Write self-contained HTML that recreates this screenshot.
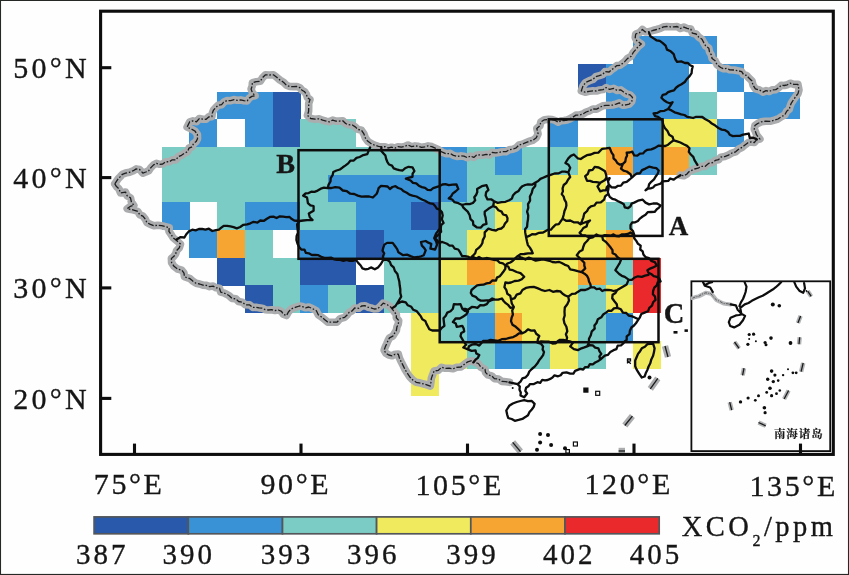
<!DOCTYPE html>
<html>
<head>
<meta charset="utf-8">
<title>XCO2 map</title>
<style>
html,body{margin:0;padding:0;background:#fefefe;}
body{width:849px;height:575px;overflow:hidden;}
svg{display:block;}
text{font-family:"Liberation Serif","Noto Serif CJK SC",serif;fill:#161616;stroke:#161616;stroke-width:0.35px;}
.ax{font-size:30px;letter-spacing:3.25px;}
.lab{font-size:26.5px;font-weight:bold;}
</style>
</head>
<body>
<svg width="849" height="575" viewBox="0 0 849 575">
<rect x="0" y="0" width="849" height="575" fill="#fefefe"/>
<!-- grid cells -->
<g shape-rendering="crispEdges">
<rect x="633.28" y="36.15" width="83.42" height="27.89" fill="#3a92d6"/>
<rect x="577.8" y="63.84" width="27.94" height="27.89" fill="#2859ab"/>
<rect x="605.54" y="63.84" width="83.42" height="27.89" fill="#3a92d6"/>
<rect x="716.5" y="63.84" width="27.94" height="27.89" fill="#3a92d6"/>
<rect x="217.18" y="91.53" width="55.68" height="27.89" fill="#3a92d6"/>
<rect x="272.66" y="91.53" width="27.94" height="27.89" fill="#2859ab"/>
<rect x="605.54" y="91.53" width="83.42" height="27.89" fill="#3a92d6"/>
<rect x="688.76" y="91.53" width="27.94" height="27.89" fill="#7bccc4"/>
<rect x="744.24" y="91.53" width="55.68" height="27.89" fill="#3a92d6"/>
<rect x="189.44" y="119.22" width="27.94" height="27.89" fill="#3a92d6"/>
<rect x="244.92" y="119.22" width="27.94" height="27.89" fill="#3a92d6"/>
<rect x="272.66" y="119.22" width="27.94" height="27.89" fill="#2859ab"/>
<rect x="300.4" y="119.22" width="55.68" height="27.89" fill="#7bccc4"/>
<rect x="550.06" y="119.22" width="27.94" height="27.89" fill="#3a92d6"/>
<rect x="605.54" y="119.22" width="27.94" height="27.89" fill="#7bccc4"/>
<rect x="633.28" y="119.22" width="27.94" height="27.89" fill="#3a92d6"/>
<rect x="661.02" y="119.22" width="55.68" height="27.89" fill="#f0ea5e"/>
<rect x="716.5" y="119.22" width="27.94" height="27.89" fill="#3a92d6"/>
<rect x="161.7" y="146.91" width="277.6" height="27.89" fill="#7bccc4"/>
<rect x="439.1" y="146.91" width="27.94" height="27.89" fill="#3a92d6"/>
<rect x="466.84" y="146.91" width="27.94" height="27.89" fill="#7bccc4"/>
<rect x="494.58" y="146.91" width="27.94" height="27.89" fill="#3a92d6"/>
<rect x="522.32" y="146.91" width="55.68" height="27.89" fill="#7bccc4"/>
<rect x="577.8" y="146.91" width="27.94" height="27.89" fill="#f0ea5e"/>
<rect x="605.54" y="146.91" width="27.94" height="27.89" fill="#f6a533"/>
<rect x="633.28" y="146.91" width="27.94" height="27.89" fill="#3a92d6"/>
<rect x="661.02" y="146.91" width="27.94" height="27.89" fill="#f6a533"/>
<rect x="688.76" y="146.91" width="27.94" height="27.89" fill="#7bccc4"/>
<rect x="161.7" y="174.6" width="166.64" height="27.89" fill="#7bccc4"/>
<rect x="328.14" y="174.6" width="138.9" height="27.89" fill="#3a92d6"/>
<rect x="466.84" y="174.6" width="83.42" height="27.89" fill="#7bccc4"/>
<rect x="550.06" y="174.6" width="55.68" height="27.89" fill="#f0ea5e"/>
<rect x="161.7" y="202.29" width="27.94" height="27.89" fill="#3a92d6"/>
<rect x="217.18" y="202.29" width="27.94" height="27.89" fill="#7bccc4"/>
<rect x="244.92" y="202.29" width="55.68" height="27.89" fill="#3a92d6"/>
<rect x="300.4" y="202.29" width="55.68" height="27.89" fill="#7bccc4"/>
<rect x="355.88" y="202.29" width="55.68" height="27.89" fill="#3a92d6"/>
<rect x="411.36" y="202.29" width="27.94" height="27.89" fill="#2859ab"/>
<rect x="439.1" y="202.29" width="55.68" height="27.89" fill="#7bccc4"/>
<rect x="494.58" y="202.29" width="27.94" height="27.89" fill="#f0ea5e"/>
<rect x="522.32" y="202.29" width="27.94" height="27.89" fill="#7bccc4"/>
<rect x="550.06" y="202.29" width="55.68" height="27.89" fill="#f0ea5e"/>
<rect x="605.54" y="202.29" width="27.94" height="27.89" fill="#7bccc4"/>
<rect x="189.44" y="229.98" width="27.94" height="27.89" fill="#3a92d6"/>
<rect x="217.18" y="229.98" width="27.94" height="27.89" fill="#f6a533"/>
<rect x="244.92" y="229.98" width="27.94" height="27.89" fill="#7bccc4"/>
<rect x="300.4" y="229.98" width="55.68" height="27.89" fill="#3a92d6"/>
<rect x="355.88" y="229.98" width="27.94" height="27.89" fill="#2859ab"/>
<rect x="383.62" y="229.98" width="55.68" height="27.89" fill="#3a92d6"/>
<rect x="439.1" y="229.98" width="27.94" height="27.89" fill="#7bccc4"/>
<rect x="466.84" y="229.98" width="138.9" height="27.89" fill="#f0ea5e"/>
<rect x="605.54" y="229.98" width="27.94" height="27.89" fill="#f6a533"/>
<rect x="217.18" y="257.67" width="27.94" height="27.89" fill="#2859ab"/>
<rect x="244.92" y="257.67" width="55.68" height="27.89" fill="#7bccc4"/>
<rect x="300.4" y="257.67" width="55.68" height="27.89" fill="#2859ab"/>
<rect x="383.62" y="257.67" width="55.68" height="27.89" fill="#7bccc4"/>
<rect x="439.1" y="257.67" width="27.94" height="27.89" fill="#f0ea5e"/>
<rect x="466.84" y="257.67" width="27.94" height="27.89" fill="#f6a533"/>
<rect x="494.58" y="257.67" width="83.42" height="27.89" fill="#f0ea5e"/>
<rect x="577.8" y="257.67" width="27.94" height="27.89" fill="#f6a533"/>
<rect x="605.54" y="257.67" width="27.94" height="27.89" fill="#7bccc4"/>
<rect x="633.28" y="257.67" width="27.94" height="27.89" fill="#e9292b"/>
<rect x="244.92" y="285.36" width="27.94" height="27.89" fill="#2859ab"/>
<rect x="272.66" y="285.36" width="27.94" height="27.89" fill="#7bccc4"/>
<rect x="300.4" y="285.36" width="27.94" height="27.89" fill="#3a92d6"/>
<rect x="328.14" y="285.36" width="27.94" height="27.89" fill="#7bccc4"/>
<rect x="355.88" y="285.36" width="27.94" height="27.89" fill="#2859ab"/>
<rect x="383.62" y="285.36" width="111.16" height="27.89" fill="#7bccc4"/>
<rect x="494.58" y="285.36" width="83.42" height="27.89" fill="#f0ea5e"/>
<rect x="577.8" y="285.36" width="27.94" height="27.89" fill="#7bccc4"/>
<rect x="605.54" y="285.36" width="27.94" height="27.89" fill="#f0ea5e"/>
<rect x="633.28" y="285.36" width="27.94" height="27.89" fill="#e9292b"/>
<rect x="411.36" y="313.05" width="27.94" height="27.89" fill="#f0ea5e"/>
<rect x="439.1" y="313.05" width="27.94" height="27.89" fill="#7bccc4"/>
<rect x="466.84" y="313.05" width="27.94" height="27.89" fill="#3a92d6"/>
<rect x="494.58" y="313.05" width="27.94" height="27.89" fill="#f6a533"/>
<rect x="522.32" y="313.05" width="55.68" height="27.89" fill="#f0ea5e"/>
<rect x="577.8" y="313.05" width="27.94" height="27.89" fill="#7bccc4"/>
<rect x="605.54" y="313.05" width="27.94" height="27.89" fill="#3a92d6"/>
<rect x="411.36" y="340.74" width="55.68" height="27.89" fill="#f0ea5e"/>
<rect x="466.84" y="340.74" width="27.94" height="27.89" fill="#7bccc4"/>
<rect x="494.58" y="340.74" width="27.94" height="27.89" fill="#3a92d6"/>
<rect x="522.32" y="340.74" width="27.94" height="27.89" fill="#7bccc4"/>
<rect x="550.06" y="340.74" width="27.94" height="27.89" fill="#f0ea5e"/>
<rect x="577.8" y="340.74" width="27.94" height="27.89" fill="#7bccc4"/>
<rect x="633.28" y="340.74" width="27.94" height="27.89" fill="#f0ea5e"/>
<rect x="411.36" y="368.43" width="27.94" height="27.89" fill="#f0ea5e"/>
</g>
<!-- borders -->
<g fill="none" stroke-linejoin="round" stroke-linecap="round">
<path d="M114.8 183.9 L118.1 178.9 L120.3 176.6 L122.4 174.3 L125.5 173.1 L129.5 172.3 L133.3 170.7 L136.2 168.9 L139.6 169.5 L142.9 173.1 L145.8 172.0 L148.7 170.7 L150.9 167.6 L153.6 164.9 L156.5 163.4 L159.7 164.3 L162.7 164.0 L165.6 161.7 L169.3 161.8 L172.3 159.8 L176.0 159.9 L178.1 156.8 L181.5 155.3 L184.4 153.2 L187.6 151.7 L189.0 148.1 L192.3 146.7 L193.4 143.6 L196.1 141.6 L197.5 138.8 L197.4 134.5 L194.9 131.0 L191.1 128.9 L187.1 127.1 L189.7 121.8 L192.9 120.9 L196.5 121.8 L199.3 118.6 L202.8 119.2 L206.1 119.3 L208.7 116.9 L211.9 116.6 L212.3 113.2 L213.5 110.1 L215.8 107.5 L218.1 105.3 L221.6 104.7 L223.7 102.2 L226.9 100.5 L230.7 100.7 L234.1 99.6 L237.3 100.3 L240.7 99.9 L243.9 100.7 L247.2 100.9 L249.2 98.1 L251.8 96.4 L255.1 95.7 L252.4 92.8 L251.1 89.1 L252.2 85.9 L252.4 82.6 L256.3 81.7 L260.3 81.3 L262.5 77.7 L265.5 74.8 L269.4 75.0 L273.4 74.8 L276.7 77.3 L279.9 80.0 L283.5 82.2 L286.4 85.2 L289.8 86.5 L293.3 86.6 L296.9 86.5 L299.9 87.7 L302.0 90.2 L304.7 91.8 L306.4 94.4 L307.4 97.6 L310.0 99.6 L308.7 103.4 L308.7 107.5 L308.6 111.5 L307.4 115.3 L310.7 118.5 L315.2 119.2 L319.0 118.8 L322.6 120.2 L326.2 121.1 L329.4 121.8 L332.7 120.1 L335.9 121.1 L339.2 121.1 L342.8 120.8 L345.6 123.5 L348.8 124.7 L352.3 125.0 L355.3 126.9 L357.9 129.4 L361.5 130.2 L363.9 133.9 L365.4 138.1 L367.6 141.1 L370.6 143.3 L374.4 145.1 L378.4 146.4 L381.7 146.8 L385.0 146.7 L388.2 148.0 L391.5 147.2 L394.9 148.2 L398.0 146.7 L401.4 147.1 L404.6 146.4 L408.0 145.0 L411.6 146.6 L415.0 145.9 L418.3 146.3 L421.6 147.3 L424.8 146.8 L428.1 145.9 L431.8 146.6 L435.2 148.2 L438.6 149.8 L442.3 152.2 L446.4 153.8 L450.2 153.4 L453.4 155.4 L456.9 156.4 L460.5 155.9 L464.0 156.2 L467.4 157.7 L470.3 156.0 L473.8 157.4 L476.6 155.1 L479.8 154.9 L483.0 155.1 L486.1 154.3 L489.4 155.1 L492.2 152.4 L495.5 152.9 L498.7 152.5 L502.2 151.7 L506.0 151.7 L509.2 149.8 L512.8 149.2 L516.2 147.9 L518.9 145.0 L522.4 144.2 L525.8 142.7 L529.3 141.2 L532.9 140.3 L536.3 137.7 L538.1 133.8 L536.8 128.5 L539.9 125.9 L540.8 122.0 L544.4 119.8 L548.6 119.4 L552.1 119.5 L555.2 120.5 L558.2 122.2 L560.9 120.7 L564.0 120.5 L567.0 120.0 L569.8 118.9 L572.9 117.1 L575.9 115.1 L579.6 115.0 L583.0 114.0 L586.1 112.0 L589.7 110.8 L592.9 109.0 L596.6 109.1 L599.7 107.4 L602.8 105.8 L606.1 105.4 L609.4 105.3 L612.8 105.0 L616.0 104.1 L619.3 102.9 L622.6 105.2 L625.9 104.9 L629.2 104.1 L631.8 101.3 L632.5 97.5 L630.1 94.9 L626.5 94.0 L623.6 92.0 L620.9 89.9 L617.0 90.4 L613.6 88.4 L609.6 89.4 L606.1 87.6 L603.1 89.6 L599.7 90.0 L596.4 91.0 L592.9 90.9 L589.0 91.3 L585.2 92.2 L581.3 90.9 L583.0 86.0 L585.5 82.6 L589.1 80.8 L592.9 79.4 L595.7 76.7 L599.3 75.7 L602.8 74.4 L605.0 71.6 L609.1 72.0 L611.6 69.7 L614.3 67.8 L616.8 65.6 L620.0 65.3 L624.5 61.9 L627.4 58.6 L631.2 56.3 L633.1 52.7 L635.7 49.6 L638.2 46.5 L641.3 44.0 L636.8 40.7 L635.2 37.5 L635.7 34.0 L639.6 32.6 L642.4 29.5 L645.3 31.9 L649.1 31.7 L652.8 30.5 L656.6 29.5 L660.3 28.4 L663.5 26.8 L666.9 26.5 L670.3 26.8 L673.7 26.8 L677.1 26.5 L680.3 28.5 L683.9 27.1 L687.1 28.4 L690.8 29.1 L692.4 33.2 L696.1 34.0 L698.6 37.0 L702.0 39.3 L703.9 42.9 L705.7 46.0 L708.8 48.2 L709.5 51.9 L711.3 54.9 L712.1 58.5 L715.1 60.8 L717.1 64.8 L720.7 67.5 L723.6 68.8 L726.9 68.4 L729.7 69.8 L734.2 70.0 L738.6 70.9 L741.7 71.6 L743.5 74.6 L746.5 75.4 L749.2 78.3 L752.0 81.0 L753.0 85.2 L755.4 88.8 L759.5 90.0 L763.2 92.1 L766.0 90.6 L769.4 91.5 L772.2 89.9 L775.8 89.6 L778.6 87.8 L781.1 85.4 L784.3 85.5 L787.3 84.8 L790.1 83.2 L793.9 84.4 L797.9 84.3 L799.0 89.9 L798.0 93.6 L795.7 96.6 L793.4 99.9 L791.2 103.3 L790.1 106.1 L789.3 109.2 L786.7 111.2 L784.8 114.9 L781.1 116.8 L778.0 119.0 L774.4 120.1 L770.0 121.3 L765.5 121.2 L761.4 121.8 L757.7 123.5 L754.9 125.6 L754.3 129.1 L755.5 131.8 L756.5 134.7 L759.9 139.1 L756.5 139.8 L754.3 142.5 L751.0 141.9 L748.0 142.7 L745.3 144.7 L742.2 147.3 L738.6 149.2 L735.6 151.8 L731.9 153.0 L728.4 155.1 L724.7 156.6 L720.7 157.2 L718.6 159.7 L715.3 160.4 L712.9 162.5 L708.5 163.4 L705.0 166.4 L701.3 166.3 L698.1 168.2 L694.6 169.0 L691.7 170.4 L688.9 171.8 L686.7 174.2 L683.7 175.8 L680.4 175.2 M114.8 183.9 L116.5 186.6 L118.9 188.8 L120.6 193.0 L125.5 192.1 L127.1 195.7 L130.5 197.9 L131.4 202.0 L133.8 205.4 L130.2 206.4 L127.2 208.7 L130.9 209.4 L134.6 210.3 L137.9 211.5 L139.7 214.8 L142.9 216.1 L145.3 219.2 L147.0 222.7 L150.4 224.4 L153.9 225.7 L157.8 225.2 L161.7 225.7 L165.5 226.6 L169.3 227.7 L168.9 231.3 L171.0 234.3 L173.0 237.6 L176.0 240.1 L180.5 244.0 L179.3 247.8 L176.6 250.6 L175.7 253.8 L173.9 256.3 L171.4 258.4 L171.6 262.7 L174.0 266.3 L177.5 269.0 L181.8 270.2 L184.0 273.1 L184.4 276.7 L190.0 278.7 L192.8 281.1 L195.9 283.2 L199.6 284.0 L203.0 285.2 L206.4 285.4 L209.6 286.6 L213.1 286.1 L216.2 287.8 L219.5 288.2 L220.7 292.1 L223.8 292.9 L226.6 294.2 L229.2 295.7 L231.9 298.4 L235.8 298.8 L238.6 301.5 L242.3 302.2 L245.4 304.8 L249.7 304.9 L252.8 307.4 L256.0 307.2 L259.1 307.9 L262.3 308.2 L265.2 309.7 L268.4 310.0 L271.7 309.7 L275.0 310.5 L278.3 310.0 L281.5 311.4 L283.3 314.3 L286.5 315.5 L288.4 312.0 L291.0 309.0 L295.2 307.4 L299.4 306.0 L302.5 306.6 L305.5 307.8 L308.8 307.0 L312.7 308.7 L316.4 310.8 L318.3 314.8 L322.0 317.3 L324.8 319.7 L327.7 322.1 L330.8 322.2 L334.0 322.2 L337.1 322.1 L340.2 318.6 L344.7 317.3 L347.1 315.0 L349.1 312.3 L352.2 310.8 L354.7 308.0 L358.8 308.3 L361.6 306.0 L364.9 305.7 L367.9 307.2 L371.0 307.9 L374.2 309.0 L377.5 308.8 L380.5 306.1 L383.2 303.2 L387.2 304.7 L390.7 307.0 L392.6 309.5 L394.4 312.1 L396.4 314.5 L396.3 317.8 L398.7 320.5 L398.3 323.9 L396.9 327.0 L396.4 330.4 L394.5 333.3 L392.8 336.2 L389.5 337.9 L387.9 340.9 L386.6 344.0 L385.2 347.1 L384.1 350.3 L385.9 353.2 L388.8 355.0 L392.1 355.8 L395.1 354.2 L398.3 354.1 L399.4 358.0 L401.1 361.6 L403.0 365.4 L404.9 369.2 L407.2 373.0 L409.6 376.7 L412.6 379.9 L416.2 382.3 L420.5 383.1 L424.7 384.2 L430.3 386.1 L430.9 382.4 L431.3 378.6 L432.6 374.8 L434.1 371.0 L438.4 370.3 L441.6 367.3 L445.3 368.3 L449.2 368.2 L453.1 368.8 L456.7 367.3 L460.9 367.0 L464.2 364.4 L467.7 361.9 L471.8 360.7 L475.0 362.3 L478.4 363.5 L480.9 367.3 L485.0 369.2 L485.5 372.4 L487.8 374.8 L491.6 375.8 L494.4 378.6 L498.5 379.0 L501.9 381.4 L505.7 381.7 L509.5 382.3" stroke="#abacae" stroke-width="7.6"/>
<path d="M114.8 183.9 L118.1 178.9 L120.3 176.6 L122.4 174.3 L125.5 173.1 L129.5 172.3 L133.3 170.7 L136.2 168.9 L139.6 169.5 L142.9 173.1 L145.8 172.0 L148.7 170.7 L150.9 167.6 L153.6 164.9 L156.5 163.4 L159.7 164.3 L162.7 164.0 L165.6 161.7 L169.3 161.8 L172.3 159.8 L176.0 159.9 L178.1 156.8 L181.5 155.3 L184.4 153.2 L187.6 151.7 L189.0 148.1 L192.3 146.7 L193.4 143.6 L196.1 141.6 L197.5 138.8 L197.4 134.5 L194.9 131.0 L191.1 128.9 L187.1 127.1 L189.7 121.8 L192.9 120.9 L196.5 121.8 L199.3 118.6 L202.8 119.2 L206.1 119.3 L208.7 116.9 L211.9 116.6 L212.3 113.2 L213.5 110.1 L215.8 107.5 L218.1 105.3 L221.6 104.7 L223.7 102.2 L226.9 100.5 L230.7 100.7 L234.1 99.6 L237.3 100.3 L240.7 99.9 L243.9 100.7 L247.2 100.9 L249.2 98.1 L251.8 96.4 L255.1 95.7 L252.4 92.8 L251.1 89.1 L252.2 85.9 L252.4 82.6 L256.3 81.7 L260.3 81.3 L262.5 77.7 L265.5 74.8 L269.4 75.0 L273.4 74.8 L276.7 77.3 L279.9 80.0 L283.5 82.2 L286.4 85.2 L289.8 86.5 L293.3 86.6 L296.9 86.5 L299.9 87.7 L302.0 90.2 L304.7 91.8 L306.4 94.4 L307.4 97.6 L310.0 99.6 L308.7 103.4 L308.7 107.5 L308.6 111.5 L307.4 115.3 L310.7 118.5 L315.2 119.2 L319.0 118.8 L322.6 120.2 L326.2 121.1 L329.4 121.8 L332.7 120.1 L335.9 121.1 L339.2 121.1 L342.8 120.8 L345.6 123.5 L348.8 124.7 L352.3 125.0 L355.3 126.9 L357.9 129.4 L361.5 130.2 L363.9 133.9 L365.4 138.1 L367.6 141.1 L370.6 143.3 L374.4 145.1 L378.4 146.4 L381.7 146.8 L385.0 146.7 L388.2 148.0 L391.5 147.2 L394.9 148.2 L398.0 146.7 L401.4 147.1 L404.6 146.4 L408.0 145.0 L411.6 146.6 L415.0 145.9 L418.3 146.3 L421.6 147.3 L424.8 146.8 L428.1 145.9 L431.8 146.6 L435.2 148.2 L438.6 149.8 L442.3 152.2 L446.4 153.8 L450.2 153.4 L453.4 155.4 L456.9 156.4 L460.5 155.9 L464.0 156.2 L467.4 157.7 L470.3 156.0 L473.8 157.4 L476.6 155.1 L479.8 154.9 L483.0 155.1 L486.1 154.3 L489.4 155.1 L492.2 152.4 L495.5 152.9 L498.7 152.5 L502.2 151.7 L506.0 151.7 L509.2 149.8 L512.8 149.2 L516.2 147.9 L518.9 145.0 L522.4 144.2 L525.8 142.7 L529.3 141.2 L532.9 140.3 L536.3 137.7 L538.1 133.8 L536.8 128.5 L539.9 125.9 L540.8 122.0 L544.4 119.8 L548.6 119.4 L552.1 119.5 L555.2 120.5 L558.2 122.2 L560.9 120.7 L564.0 120.5 L567.0 120.0 L569.8 118.9 L572.9 117.1 L575.9 115.1 L579.6 115.0 L583.0 114.0 L586.1 112.0 L589.7 110.8 L592.9 109.0 L596.6 109.1 L599.7 107.4 L602.8 105.8 L606.1 105.4 L609.4 105.3 L612.8 105.0 L616.0 104.1 L619.3 102.9 L622.6 105.2 L625.9 104.9 L629.2 104.1 L631.8 101.3 L632.5 97.5 L630.1 94.9 L626.5 94.0 L623.6 92.0 L620.9 89.9 L617.0 90.4 L613.6 88.4 L609.6 89.4 L606.1 87.6 L603.1 89.6 L599.7 90.0 L596.4 91.0 L592.9 90.9 L589.0 91.3 L585.2 92.2 L581.3 90.9 L583.0 86.0 L585.5 82.6 L589.1 80.8 L592.9 79.4 L595.7 76.7 L599.3 75.7 L602.8 74.4 L605.0 71.6 L609.1 72.0 L611.6 69.7 L614.3 67.8 L616.8 65.6 L620.0 65.3 L624.5 61.9 L627.4 58.6 L631.2 56.3 L633.1 52.7 L635.7 49.6 L638.2 46.5 L641.3 44.0 L636.8 40.7 L635.2 37.5 L635.7 34.0 L639.6 32.6 L642.4 29.5 L645.3 31.9 L649.1 31.7 L652.8 30.5 L656.6 29.5 L660.3 28.4 L663.5 26.8 L666.9 26.5 L670.3 26.8 L673.7 26.8 L677.1 26.5 L680.3 28.5 L683.9 27.1 L687.1 28.4 L690.8 29.1 L692.4 33.2 L696.1 34.0 L698.6 37.0 L702.0 39.3 L703.9 42.9 L705.7 46.0 L708.8 48.2 L709.5 51.9 L711.3 54.9 L712.1 58.5 L715.1 60.8 L717.1 64.8 L720.7 67.5 L723.6 68.8 L726.9 68.4 L729.7 69.8 L734.2 70.0 L738.6 70.9 L741.7 71.6 L743.5 74.6 L746.5 75.4 L749.2 78.3 L752.0 81.0 L753.0 85.2 L755.4 88.8 L759.5 90.0 L763.2 92.1 L766.0 90.6 L769.4 91.5 L772.2 89.9 L775.8 89.6 L778.6 87.8 L781.1 85.4 L784.3 85.5 L787.3 84.8 L790.1 83.2 L793.9 84.4 L797.9 84.3 L799.0 89.9 L798.0 93.6 L795.7 96.6 L793.4 99.9 L791.2 103.3 L790.1 106.1 L789.3 109.2 L786.7 111.2 L784.8 114.9 L781.1 116.8 L778.0 119.0 L774.4 120.1 L770.0 121.3 L765.5 121.2 L761.4 121.8 L757.7 123.5 L754.9 125.6 L754.3 129.1 L755.5 131.8 L756.5 134.7 L759.9 139.1 L756.5 139.8 L754.3 142.5 L751.0 141.9 L748.0 142.7 L745.3 144.7 L742.2 147.3 L738.6 149.2 L735.6 151.8 L731.9 153.0 L728.4 155.1 L724.7 156.6 L720.7 157.2 L718.6 159.7 L715.3 160.4 L712.9 162.5 L708.5 163.4 L705.0 166.4 L701.3 166.3 L698.1 168.2 L694.6 169.0 L691.7 170.4 L688.9 171.8 L686.7 174.2 L683.7 175.8 L680.4 175.2 M114.8 183.9 L116.5 186.6 L118.9 188.8 L120.6 193.0 L125.5 192.1 L127.1 195.7 L130.5 197.9 L131.4 202.0 L133.8 205.4 L130.2 206.4 L127.2 208.7 L130.9 209.4 L134.6 210.3 L137.9 211.5 L139.7 214.8 L142.9 216.1 L145.3 219.2 L147.0 222.7 L150.4 224.4 L153.9 225.7 L157.8 225.2 L161.7 225.7 L165.5 226.6 L169.3 227.7 L168.9 231.3 L171.0 234.3 L173.0 237.6 L176.0 240.1 L180.5 244.0 L179.3 247.8 L176.6 250.6 L175.7 253.8 L173.9 256.3 L171.4 258.4 L171.6 262.7 L174.0 266.3 L177.5 269.0 L181.8 270.2 L184.0 273.1 L184.4 276.7 L190.0 278.7 L192.8 281.1 L195.9 283.2 L199.6 284.0 L203.0 285.2 L206.4 285.4 L209.6 286.6 L213.1 286.1 L216.2 287.8 L219.5 288.2 L220.7 292.1 L223.8 292.9 L226.6 294.2 L229.2 295.7 L231.9 298.4 L235.8 298.8 L238.6 301.5 L242.3 302.2 L245.4 304.8 L249.7 304.9 L252.8 307.4 L256.0 307.2 L259.1 307.9 L262.3 308.2 L265.2 309.7 L268.4 310.0 L271.7 309.7 L275.0 310.5 L278.3 310.0 L281.5 311.4 L283.3 314.3 L286.5 315.5 L288.4 312.0 L291.0 309.0 L295.2 307.4 L299.4 306.0 L302.5 306.6 L305.5 307.8 L308.8 307.0 L312.7 308.7 L316.4 310.8 L318.3 314.8 L322.0 317.3 L324.8 319.7 L327.7 322.1 L330.8 322.2 L334.0 322.2 L337.1 322.1 L340.2 318.6 L344.7 317.3 L347.1 315.0 L349.1 312.3 L352.2 310.8 L354.7 308.0 L358.8 308.3 L361.6 306.0 L364.9 305.7 L367.9 307.2 L371.0 307.9 L374.2 309.0 L377.5 308.8 L380.5 306.1 L383.2 303.2 L387.2 304.7 L390.7 307.0 L392.6 309.5 L394.4 312.1 L396.4 314.5 L396.3 317.8 L398.7 320.5 L398.3 323.9 L396.9 327.0 L396.4 330.4 L394.5 333.3 L392.8 336.2 L389.5 337.9 L387.9 340.9 L386.6 344.0 L385.2 347.1 L384.1 350.3 L385.9 353.2 L388.8 355.0 L392.1 355.8 L395.1 354.2 L398.3 354.1 L399.4 358.0 L401.1 361.6 L403.0 365.4 L404.9 369.2 L407.2 373.0 L409.6 376.7 L412.6 379.9 L416.2 382.3 L420.5 383.1 L424.7 384.2 L430.3 386.1 L430.9 382.4 L431.3 378.6 L432.6 374.8 L434.1 371.0 L438.4 370.3 L441.6 367.3 L445.3 368.3 L449.2 368.2 L453.1 368.8 L456.7 367.3 L460.9 367.0 L464.2 364.4 L467.7 361.9 L471.8 360.7 L475.0 362.3 L478.4 363.5 L480.9 367.3 L485.0 369.2 L485.5 372.4 L487.8 374.8 L491.6 375.8 L494.4 378.6 L498.5 379.0 L501.9 381.4 L505.7 381.7 L509.5 382.3" stroke="#1e1e1e" stroke-width="1.3" stroke-dasharray="6 1.8 1.6 1.8" stroke-linecap="butt"/>
<path d="M509.5 382.3 L512.9 383.1 L517.6 384.1 L519.8 386.5 L519.5 389.7 L520.8 392.4 L520.5 395.4 L524.2 397.3 L527.1 393.5 L525.3 390.9 L526.1 387.8 L528.4 386.3 L529.9 384.1 L533.9 384.0 L537.4 382.2 L540.2 382.8 L542.2 379.9 L545.0 380.3 L547.7 380.0 L550.2 378.9 L552.5 377.5 L554.5 375.3 L558.1 376.3 L560.7 375.3 L562.6 372.8 L566.5 372.4 L570.2 373.7 L573.4 373.7 L575.1 370.9 L577.7 369.9 L580.2 368.9 L583.2 369.5 L585.2 367.1 L588.1 367.2 L589.9 364.2 L592.8 364.3 L595.2 362.5 L597.8 361.2 L600.3 359.6 L602.5 357.6 L604.8 355.6 L607.8 354.9 L610.3 352.1 L613.5 350.2 L616.4 349.2 L617.7 345.7 L621.0 345.4 L623.0 343.7 L624.7 341.5 L626.7 339.8 L626.7 336.3 L629.5 334.1 L629.9 330.7 L631.4 327.5 L634.0 325.5 L636.1 323.0 L638.0 320.2 L639.9 317.3 L641.3 314.0 L644.6 312.6 L648.0 311.3 L649.3 307.9 L652.0 305.6 L653.1 302.3 L655.5 299.9 L655.0 296.6 L652.9 294.2 L653.1 291.0 L654.3 287.7 L656.8 285.3 L657.7 282.4 L660.6 281.5 L659.4 278.6 L656.8 276.8 L653.7 276.1 L651.2 274.0 L648.5 272.9 L647.4 270.2 L650.1 268.6 L653.1 267.4 L656.8 265.5 L654.8 262.1 L651.2 260.8 L648.9 258.1 L645.5 257.0 L643.4 254.5 L642.7 251.4 L640.2 249.5 L640.7 245.6 L638.0 243.8 L636.3 240.9 L634.2 238.2 L634.2 234.5 L633.0 231.0 L630.5 228.6 L630.5 225.2 L632.1 222.5 L635.2 222.3 L637.9 220.9 L639.9 218.6 L642.6 216.5 L645.5 214.8 L647.7 212.2 L651.2 212.0 L654.6 211.9 L656.8 209.2 L659.0 207.6 L660.6 205.4 L657.1 203.5 L653.1 203.5 L649.1 204.4 L645.5 202.6 L642.7 199.7 L638.0 200.7 L634.2 202.6 L631.5 203.6 L630.5 206.3 L627.9 208.2 L624.8 207.3 L623.8 204.2 L621.0 202.6 L618.1 201.3 L615.4 199.7 L612.3 198.8 L609.7 196.9 L607.8 192.2 L608.5 188.5 L608.8 184.7 L611.6 187.4 L615.4 187.5 L618.0 185.8 L621.0 185.6 L623.2 182.7 L626.7 181.8 L629.6 179.5 L632.4 177.1 L634.5 175.1 L636.8 173.5 L639.9 173.3 L642.0 170.1 L645.5 168.6 L649.1 166.7 L653.1 167.7 L656.3 168.2 L658.7 170.5 L657.8 173.6 L655.9 176.2 L654.0 179.4 L651.2 181.8 L649.1 184.3 L648.4 187.5 L645.5 190.3 L647.8 188.7 L650.6 188.4 L653.1 187.5 L655.1 185.3 L657.9 184.5 L660.6 183.7 L662.6 181.3 L665.4 181.1 L668.2 180.9 L670.2 178.5 L673.5 179.7 L675.7 178.1 L678.1 176.8 L680.4 175.2 M506.3 410.5 L509.2 405.8 L512.8 403.5 L516.7 402.0 L520.4 401.0 L524.2 400.1 L527.9 401.2 L531.8 401.0 L534.6 403.9 L533.7 406.9 L531.8 409.5 L529.5 412.1 L528.0 415.2 L525.3 417.1 L522.4 418.9 L518.6 419.9 L514.8 420.8 L511.7 419.0 L508.2 418.0 L507.1 414.3 L506.3 410.5Z M635.2 360.5 L636.6 357.2 L638.0 353.9 L640.1 351.2 L641.8 348.3 L644.9 346.7 L647.4 344.1 L653.1 343.6 L654.6 348.3 L654.0 352.1 L653.1 355.8 L651.3 359.4 L650.3 363.3 L648.6 366.5 L647.4 369.9 L645.8 373.1 L644.6 376.5 L641.8 377.5 L639.8 374.7 L638.0 371.8 L636.4 369.1 L635.2 366.2 L635.2 360.5Z M176.6 239.4 L180.2 237.2 L184.4 237.5 L186.3 234.2 L188.8 231.4 L192.3 229.7 L195.6 230.4 L198.9 229.0 L202.1 228.8 L205.4 229.7 L208.9 228.7 L212.3 231.0 L215.8 230.2 L218.9 229.6 L221.3 227.7 L223.7 225.8 L227.1 225.9 L230.4 226.4 L233.6 227.2 L236.8 228.4 L240.2 227.0 L243.4 224.8 L247.2 224.4 L250.4 223.3 L253.6 221.8 L257.4 222.7 L260.3 220.5 L264.0 220.8 L266.9 218.7 L269.9 216.9 L273.4 216.6 L276.6 218.0 L279.9 216.3 L283.2 216.6 L286.4 217.1 L289.6 217.0 L291.8 219.1 L294.3 220.5 L299.4 221.0 M299.4 221.0 L303.2 220.5 L307.0 220.1 L309.8 220.1 L312.6 220.1 L309.8 217.3 L308.8 213.5 L313.6 210.7 L313.6 206.0 L310.4 205.3 L307.9 203.1 L307.5 200.3 L307.0 197.5 L303.2 195.6 L305.6 193.3 L308.6 193.1 L311.3 191.7 L314.5 191.8 L317.7 190.6 L320.8 188.7 L324.0 187.7 L327.7 188.1 L328.6 184.6 L330.5 181.5 L330.7 178.1 L332.6 175.2 L333.3 172.0 L336.5 170.5 L339.9 169.5 L342.8 167.3 L345.6 165.4 L348.2 163.4 L350.3 160.7 L353.8 160.5 L356.5 157.9 L359.7 157.0 L363.3 155.1 L367.3 154.1 L369.2 149.4 L370.1 147.5 M299.4 221.0 L297.1 224.5 L297.5 228.6 L298.0 232.5 L296.6 236.1 L296.4 240.0 L297.5 243.8 L299.1 246.9 L301.3 249.5 L304.4 249.6 L305.9 252.9 L308.8 253.3 L311.8 255.0 L315.1 254.9 L318.3 255.2 L321.2 256.8 L324.3 257.9 L327.7 258.0 L331.0 257.6 L334.0 259.3 L337.1 259.9 L340.2 259.9 L343.4 260.8 L346.5 259.9 L349.7 260.8 L352.8 260.8 L356.0 259.9 L358.2 262.9 L360.7 265.5 L362.4 268.3 L365.4 269.3 L368.4 268.8 L371.0 267.4 L374.8 269.3 L378.0 267.4 L380.5 264.6 L383.3 259.9 M383.3 259.9 L383.0 256.5 L384.2 253.3 L382.5 250.7 L383.3 247.6 L384.4 244.6 L387.1 242.9 L392.7 242.9 L395.5 246.7 L397.3 249.3 L398.4 252.3 L403.1 255.2 L407.0 254.6 L410.6 256.1 L414.3 257.5 L418.2 257.0 L421.1 256.3 L423.8 255.2 L425.7 250.4 L424.1 247.8 L421.9 245.7 L421.0 242.0 L425.7 241.0 L428.3 242.7 L431.3 243.8 L430.4 248.6 L435.1 249.5 L437.0 244.8 L436.1 241.3 L434.2 238.2 L436.1 233.5 L437.9 231.1 L439.8 228.8 L440.8 228.6 M383.3 259.9 L387.0 259.5 L389.9 261.8 L391.1 265.1 L393.7 267.4 L394.9 271.0 L397.4 274.0 L398.3 277.8 L399.3 281.5 L399.7 285.3 L400.3 289.1 L400.3 292.9 L401.2 296.6 L398.4 301.3 L395.5 306.0 L392.7 307.9 M398.3 303.2 L401.9 301.5 L405.8 302.3 L407.8 305.3 L411.3 306.8 L413.3 309.8 L416.6 311.1 L418.8 313.7 L420.9 316.4 L422.3 319.3 L425.3 320.9 L426.5 323.9 L427.9 326.5 L429.3 329.2 L432.2 330.5 L435.9 330.5 L439.7 330.5 L441.8 327.9 L444.4 325.8 L443.9 322.1 L443.5 318.3 L445.8 315.7 L447.3 312.6 L450.5 311.3 L452.9 308.8 L453.9 304.1 L457.2 304.4 L460.5 304.1 L462.3 308.8 M327.7 188.1 L331.5 188.0 L335.2 187.1 L339.5 187.7 L342.8 190.5 L346.9 191.2 L350.3 193.7 L354.2 194.0 L357.8 195.6 L361.5 196.7 L365.4 196.5 L369.2 196.5 L372.9 197.5 L376.7 193.7 L377.8 191.0 L378.6 188.1 L381.0 185.9 L384.2 186.2 L387.6 186.5 L389.9 189.0 L392.4 187.0 L395.5 186.2 L398.1 188.0 L401.2 189.0 L403.7 191.3 L406.8 192.8 L409.4 194.6 L412.5 195.6 L416.5 196.5 L420.0 198.4 L422.5 199.7 L425.1 200.8 L427.6 202.2 L430.1 203.4 L433.1 203.8 L435.1 206.0 L436.8 208.7 L439.8 209.7 L442.0 212.2 L442.7 215.4 L441.8 219.3 L443.6 222.9 L441.1 225.2 L440.8 228.6 L441.1 231.8 L438.9 234.2 L435.1 238.0 L437.1 240.3 L438.9 242.7 L442.3 242.0 L447.0 243.8 L449.5 245.6 L452.6 245.7 L454.7 248.7 L458.3 249.5 L460.3 252.7 L462.0 256.1 L465.0 256.1 L467.8 256.6 L470.5 258.0 M381.4 147.5 L381.2 150.7 L383.3 153.2 L385.4 155.6 L386.1 158.8 L387.3 161.8 L389.0 164.5 L392.0 165.6 L393.7 168.3 L396.5 169.3 L399.3 170.2 L402.6 170.5 L405.0 168.3 L408.6 166.8 L412.5 167.3 L414.4 171.1 L412.6 173.7 L412.5 176.8 L409.2 177.7 L405.9 178.6 L410.6 180.5 L413.0 182.9 L416.3 183.3 L418.8 185.7 L421.9 187.1 L425.1 187.8 L427.6 189.9 L430.7 190.1 L433.2 188.1 L436.3 187.1 L439.4 186.2 L442.4 184.5 L445.5 184.2 L448.8 185.2 L452.6 184.7 L456.4 184.3 L458.3 189.0 L455.5 191.5 L452.6 193.7 L451.1 196.4 L448.8 198.4 L452.2 199.5 L454.5 202.2 L458.4 203.2 L462.0 205.0 L465.7 204.0 L469.6 204.1 L472.9 203.0 L475.2 200.3 L474.3 197.3 L476.2 194.7 L477.3 192.0 L477.1 189.0 L481.8 186.2 L486.5 185.2 L488.4 189.9 L486.1 192.3 L485.6 195.6 L487.5 199.4 L491.1 199.3 L494.1 201.3 L497.7 202.9 L501.6 202.2 L505.5 201.8 L509.2 200.3 L511.9 198.6 L512.9 195.6 L515.4 192.8 L518.6 190.9 L520.2 188.3 L522.4 186.2 L525.1 185.0 L528.0 184.3 L532.1 184.7 L535.5 182.4 L538.2 181.0 L540.4 178.9 L543.1 177.7 L546.8 176.1 L550.6 174.9 L554.6 173.5 L558.8 173.3 L561.8 171.7 L565.0 171.6 L568.3 172.4 L570.2 167.7 L568.5 164.7 L565.4 163.0 L568.3 158.3 L570.8 155.9 L573.9 154.5 L577.7 158.3 L580.7 159.0 L583.3 157.3 L586.9 155.2 L590.9 154.5 L594.5 152.9 L598.4 152.6 L602.2 148.8 L606.0 148.4 L609.7 147.9 L611.6 152.6 L613.4 155.2 L613.5 158.3 L615.7 160.4 L617.3 163.0 L619.9 164.7 L622.9 163.9 L625.3 161.6 L625.8 158.3 L627.1 155.6 L626.7 152.6 L629.6 152.5 L632.4 151.7 L634.2 155.4 L637.4 155.6 L639.9 153.6 L643.0 153.4 L645.0 151.2 L647.4 149.8 L651.3 149.4 L655.0 147.9 L658.4 145.7 L662.5 146.0 L665.4 146.0 L668.1 144.7 L670.8 142.4 L673.7 140.3 M462.0 205.0 L463.4 207.7 L465.5 209.7 L467.7 211.6 L469.7 215.2 L470.5 219.2 L473.0 221.4 L473.3 224.8 L476.7 227.3 L480.9 227.6 L483.1 224.9 L486.5 223.9 L486.0 220.6 L485.6 217.3 L484.7 214.5 L484.7 211.6 L488.4 208.8 L493.1 206.0 L494.1 201.3 M493.1 206.0 L496.2 207.4 L498.4 210.3 L501.6 211.6 L503.1 214.5 L506.3 215.4 L507.5 218.1 L507.3 221.0 L505.0 223.6 L503.5 226.7 L501.3 228.5 L498.4 229.1 L496.0 230.5 L492.1 229.8 L488.4 228.6 L484.7 232.4 L484.7 236.5 L482.8 240.1 L482.4 243.0 L481.0 245.5 L479.0 247.6 L476.2 249.8 L475.2 253.3 L472.9 255.7 L470.5 258.0 M470.5 258.0 L473.2 256.9 L476.3 258.5 L479.0 257.0 L482.6 258.9 L486.5 258.0 L490.3 258.8 L494.1 259.9 L497.4 260.4 L499.7 262.7 L502.9 263.3 L505.4 265.5 M535.5 182.4 L535.2 186.1 L532.7 189.0 L531.7 192.9 L529.9 196.5 L530.1 200.6 L528.0 204.1 L528.3 207.9 L527.1 211.6 L528.2 215.3 L528.0 219.2 L527.4 222.9 L527.1 226.7 L525.1 229.2 L525.2 232.4 L526.1 237.3 M526.1 237.3 L527.1 242.0 L527.9 245.1 L529.9 247.6 L531.5 250.3 L532.7 253.3 L528.0 253.3 L524.3 254.0 L520.5 254.2 L517.6 256.1 L515.2 258.4 L512.9 260.8 L510.3 262.5 L507.3 263.6 L505.4 265.5 M517.6 256.1 L522.4 258.0 M526.1 237.3 L529.1 235.9 L532.0 234.2 L535.5 234.4 L539.1 232.8 L543.1 232.5 L547.5 229.9 L550.9 229.7 L553.2 227.1 L555.5 224.7 L558.8 224.2 L560.7 221.4 L562.6 218.6 M568.3 172.4 L570.2 177.1 L568.0 179.7 L566.4 182.8 L563.7 185.0 L562.6 188.4 L562.9 191.4 L561.7 194.1 L563.7 196.6 L564.5 199.7 L566.1 202.3 L566.4 205.4 L565.7 208.3 L564.5 211.0 L563.7 214.8 L562.6 218.6 M562.6 218.6 L566.1 220.8 L570.2 220.5 L573.7 222.3 L577.7 222.3 L580.5 224.2 M607.8 194.1 L605.1 196.3 L604.1 199.7 L600.8 202.4 L596.5 202.6 L594.4 205.5 L590.9 206.3 L588.5 208.3 L587.1 211.0 L584.2 213.7 L583.3 217.6 L582.0 220.9 L580.5 224.2 M580.5 224.2 L585.2 222.3 L590.0 220.5 L587.6 222.8 L586.6 226.4 L583.3 228.0 L581.7 230.5 L579.6 232.7 L581.9 235.2 L585.2 235.5 L588.8 237.3 L592.8 237.3 M585.2 176.2 L587.9 173.9 L589.0 170.5 L592.6 169.8 L594.7 166.8 L598.7 167.5 L602.2 169.6 L605.0 171.3 L606.0 174.3 L606.5 177.3 L605.0 179.9 L600.3 182.8 L596.6 182.2 L592.8 181.8 L590.0 180.8 L587.1 180.9 L585.2 176.2 M605.0 179.9 L609.7 178.1 L608.0 181.2 L608.8 184.7 L606.8 187.2 L606.0 190.3 L603.1 190.4 L600.3 191.3 L597.5 186.5 L600.3 182.8 M622.9 163.9 L621.0 168.6 L623.5 170.7 L626.7 171.5 L630.5 174.3 L631.8 177.5 M673.7 140.3 L677.1 141.3 L680.4 142.5 L683.7 144.3 L687.1 145.9 L689.5 148.3 L688.8 151.9 L690.8 154.5 L693.3 156.9 L694.5 160.2 L697.4 164.9 M649.1 32.8 L650.4 36.3 L653.6 38.4 L656.4 40.3 L659.8 40.9 L662.5 42.9 L665.6 45.7 L667.0 49.6 L670.7 51.3 L673.7 54.1 L674.5 56.9 L675.5 59.5 L677.1 61.9 L681.2 61.4 L684.9 63.0 L688.0 63.0 L690.1 65.3 L692.7 66.4 L691.9 69.7 L691.6 73.1 L689.6 76.1 L687.1 78.7 L684.8 82.0 L681.5 84.3 L678.6 85.8 L676.0 87.7 L674.0 90.4 L671.0 91.1 L668.1 92.1 L665.9 94.1 L662.8 94.8 L661.4 97.7 L663.9 100.3 L667.0 102.2 L669.8 103.3 L672.6 102.2 L670.4 105.6 L668.1 108.9 L664.4 110.8 L660.3 111.2 L657.2 113.0 L653.6 113.4 L655.1 116.1 L658.1 116.8 L662.5 120.1 L663.1 124.2 L664.8 128.0 L667.5 131.1 L669.2 134.7 L672.5 136.7 L673.7 140.3 M668.1 108.9 L671.5 110.4 L674.6 112.3 L678.2 113.4 L681.2 114.3 L684.4 115.0 L687.1 116.8 L690.1 117.3 L693.1 118.0 L696.1 116.8 L699.3 116.8 L702.3 117.0 L705.0 119.0 L708.7 120.9 L711.8 123.5 L715.3 125.6 L718.5 128.0 L721.7 129.6 L725.2 130.2 L728.0 131.9 L729.7 134.7 L732.9 136.1 L736.4 135.8 L739.9 135.9 L743.1 134.7 L745.9 134.1 L748.7 133.5 L749.8 138.0 L753.3 137.7 L756.5 139.1 M634.2 238.2 L633.5 234.6 L630.5 232.5 L627.8 234.0 L624.8 234.4 L621.7 234.5 L619.2 236.3 L616.1 236.1 L613.5 234.4 L610.8 235.7 L607.8 235.4 L604.9 235.1 L602.2 236.3 L599.2 235.9 L596.5 234.4 L592.8 237.3 M602.2 236.3 L603.0 239.9 L606.0 242.0 L608.4 244.8 L610.7 247.6 L612.5 250.2 L612.6 253.3 L615.4 254.5 L617.3 257.0 L621.0 259.9 L619.8 262.8 L618.2 265.5 L615.4 270.2 L619.2 274.0 L621.8 275.8 L624.8 276.8 L628.6 279.7 M628.6 279.7 L631.8 279.9 L634.2 277.8 L637.9 276.3 L641.8 276.8 L645.0 275.6 L648.4 274.9 M628.6 279.7 L626.7 284.4 L622.0 287.2 L617.3 290.0 M617.3 290.0 L615.5 292.9 L612.6 294.7 L612.2 298.3 L614.4 301.3 L616.8 304.2 L617.3 307.9 L620.9 309.3 L622.9 312.6 L626.3 313.0 L628.6 315.5 L631.5 316.1 L634.2 317.3 L638.0 319.0 M617.3 307.9 L613.9 308.4 L611.6 310.8 L608.5 310.7 L606.0 312.6 L603.2 314.5 L601.3 317.3 L597.8 319.3 L596.5 323.0 L594.4 325.5 L594.7 328.7 L591.8 331.3 L590.8 335.2 L589.0 338.8 L588.9 342.8 L587.1 346.4 M592.8 237.3 L589.3 238.1 L587.1 241.0 L584.6 243.5 L583.3 246.7 L582.5 249.9 L579.6 251.4 L576.8 255.2 L580.5 258.9 L584.3 262.7 L584.3 265.6 L585.2 268.4 L581.5 272.1 M581.5 272.1 L584.5 273.7 L587.1 275.9 L588.4 278.6 L589.0 281.5 L590.4 284.2 L590.9 287.2 M590.9 287.2 L594.0 287.3 L596.5 289.1 L599.8 288.7 L602.2 291.0 L604.9 289.9 L607.8 290.0 L610.7 290.1 L613.5 291.0 L617.3 290.0 M522.4 258.0 L525.4 259.6 L528.8 257.6 L531.8 258.9 L535.7 260.7 L540.0 259.9 L543.2 259.4 L546.3 260.1 L549.4 260.8 L552.4 262.0 L555.6 262.4 L558.8 261.8 L561.7 263.0 L564.5 264.6 L568.2 266.0 L570.2 269.3 L574.0 270.2 L577.7 271.2 L581.5 272.1 M590.9 287.2 L588.2 288.9 L585.2 290.0 L581.2 289.8 L577.7 291.9 L575.1 293.7 L572.0 293.8 L568.3 296.6 M568.3 296.6 L565.3 295.5 L562.6 293.8 L560.3 291.4 L557.0 291.0 L553.0 291.8 L549.4 290.0 L545.0 291.0 L541.1 289.8 L537.4 288.1 L533.8 286.8 L529.9 287.2 L525.9 287.9 L522.4 290.0 L520.4 293.3 L516.7 294.7 L514.7 298.1 L511.0 299.4 M568.3 296.6 L569.0 300.6 L567.3 304.2 L564.8 307.5 L564.5 311.7 L564.7 315.5 L563.6 319.2 L564.4 323.2 L566.4 326.8 L567.3 331.3 L565.9 334.3 L567.1 337.6 L566.4 340.7 M505.4 265.5 L508.2 266.5 L509.7 269.7 L512.9 270.2 L516.6 272.0 L520.5 273.1 L524.2 276.8 L521.8 279.3 L518.6 280.6 L514.7 281.0 L511.0 282.5 L508.2 283.0 L505.4 282.5 L504.4 287.2 L506.4 290.2 L507.3 293.8 L510.3 295.8 L511.0 299.4 L511.8 303.5 L513.9 307.0 L512.2 310.6 L512.9 314.5 L511.6 317.7 L511.0 321.1 L512.5 324.7 L515.8 326.8 L518.6 329.4 L522.4 333.2 M505.4 265.5 L505.3 268.9 L503.5 271.5 L501.6 274.0 L499.8 276.2 L496.9 277.6 L496.0 280.6 L492.5 280.3 L489.8 282.8 L486.5 283.4 L483.5 284.7 L480.3 284.9 L477.1 285.3 L474.3 287.7 L471.5 290.0 L470.8 293.0 L472.4 295.7 L475.7 296.8 L478.1 299.4 L480.8 300.6 L483.6 300.7 L486.5 300.4 L489.6 300.3 L492.2 298.5 L494.4 299.4 L498.2 299.7 L501.9 298.5 L503.6 301.0 L505.7 303.2 L508.4 305.2 L510.4 307.9 L513.9 307.0 M462.3 308.8 L465.2 308.8 L468.0 309.8 L471.8 307.0 L474.7 307.1 L477.4 307.9 L480.3 305.1 L483.7 305.4 L486.8 304.1 L488.7 301.5 L491.4 300.2 L494.4 299.4 M462.3 308.8 L464.8 310.9 L468.0 311.7 L466.2 314.6 L463.3 316.4 L459.8 318.5 L455.8 318.3 L452.9 322.0 L455.8 323.6 L456.7 326.8 L459.5 326.4 L462.3 325.8 L463.7 328.5 L464.2 331.5 L461.3 333.0 L460.5 336.2 L463.3 340.9 L466.1 344.7 L463.3 347.5 L468.0 349.4 M468.0 349.4 L471.6 350.9 L475.5 350.3 L476.3 353.5 L479.3 355.0 L477.9 357.8 L475.5 359.7 L473.3 362.4 M468.0 349.4 L469.0 346.3 L471.8 344.7 L475.7 344.0 L479.3 345.6 L481.2 343.2 L483.1 340.9 L486.9 341.0 L490.6 339.9 L494.4 340.3 L498.2 340.9 L501.8 339.2 L505.7 339.0 L509.4 337.8 L513.2 337.1 L516.2 335.5 L518.9 333.3 L522.4 333.2 M522.4 333.2 L525.5 331.7 L528.0 329.4 L531.2 330.6 L534.6 330.4 L536.2 333.8 L539.3 336.0 L537.9 339.2 L537.4 342.6 M537.4 342.6 L540.8 343.6 L543.1 346.4 L542.6 349.4 L544.0 352.0 L543.1 355.1 L541.2 357.7 L539.1 360.4 L537.4 363.3 L534.9 366.4 L531.8 369.0 L529.3 371.5 L528.0 374.7 L525.7 377.3 L522.4 378.4 L520.5 381.7 L517.6 384.1 M537.4 342.6 L541.1 341.4 L545.0 341.7 L549.0 341.7 L552.5 343.6 L555.5 343.3 L557.6 341.3 L560.0 339.8 L563.3 339.8 L566.4 340.7 M566.4 340.7 L569.8 341.4 L573.0 342.6 L570.2 346.4 L573.9 349.2 L577.9 350.1 L581.5 348.3 L584.3 347.4 L587.1 346.4 M587.1 346.4 L589.8 345.2 L592.8 345.4 L595.2 347.6 L598.4 348.3 L599.5 351.3 L601.3 353.9 L599.4 356.5 L600.3 359.6" stroke="#0d0d0d" stroke-width="2.3"/>
</g>
<g>
<line x1="665.0" y1="346.0" x2="668.0" y2="357.0" stroke="#abacae" stroke-width="6.4"/><line x1="665.0" y1="346.0" x2="668.0" y2="357.0" stroke="#1a1a1a" stroke-width="1.3"/>
<line x1="657.8" y1="378.4" x2="650.3" y2="388.8" stroke="#abacae" stroke-width="6.4"/><line x1="657.8" y1="378.4" x2="650.3" y2="388.8" stroke="#1a1a1a" stroke-width="1.3"/>
<line x1="632.4" y1="416.1" x2="624.8" y2="425.5" stroke="#abacae" stroke-width="6.4"/><line x1="632.4" y1="416.1" x2="624.8" y2="425.5" stroke="#1a1a1a" stroke-width="1.3"/>
<line x1="512.7" y1="442.4" x2="520.5" y2="451.6" stroke="#abacae" stroke-width="6.4"/><line x1="512.7" y1="442.4" x2="520.5" y2="451.6" stroke="#1a1a1a" stroke-width="1.3"/>
<line x1="618.6" y1="451.0" x2="625.0" y2="451.0" stroke="#abacae" stroke-width="6.4"/><line x1="618.6" y1="451.0" x2="625.0" y2="451.0" stroke="#1a1a1a" stroke-width="1.3"/>
<rect x="583.9" y="388.1" width="4.0" height="4.0" fill="#0d0d0d" stroke="#0d0d0d" stroke-width="1.2"/>
<rect x="595.7" y="391.3" width="4.0" height="4.0" fill="none" stroke="#0d0d0d" stroke-width="1.2"/>
<circle cx="540.1" cy="434.1" r="2.0" fill="#0d0d0d"/>
<circle cx="548.0" cy="435.1" r="2.0" fill="#0d0d0d"/>
<circle cx="540.1" cy="442.4" r="2.0" fill="#0d0d0d"/>
<circle cx="551.1" cy="445.1" r="2.0" fill="#0d0d0d"/>
<circle cx="537.0" cy="449.8" r="2.0" fill="#0d0d0d"/>
<circle cx="565.0" cy="448.2" r="2.0" fill="#0d0d0d"/>
<circle cx="649.5" cy="377.6" r="2.0" fill="#0d0d0d"/>
<circle cx="512.7" cy="388.0" r="1.0" fill="#0d0d0d"/>
<rect x="565.9" y="449.6" width="3.5" height="3.5" fill="none" stroke="#0d0d0d" stroke-width="1.2"/>
<rect x="573.4" y="442.0" width="4.0" height="4.0" fill="none" stroke="#0d0d0d" stroke-width="1.2"/>
<path d="M627.5 363.5 L627.5 359 L630.5 359 L630.5 361 L628 361.3 L630.8 363.8" fill="none" stroke="#0d0d0d" stroke-width="1.3"/>
<rect x="673.5" y="331" width="4" height="2.6" fill="#0d0d0d"/><rect x="684.5" y="329.3" width="3.4" height="2.6" fill="#0d0d0d"/>
</g>
<!-- region boxes -->
<g fill="none" stroke="#0d0d0d" stroke-width="2.5">
<rect x="298.5" y="150.2" width="141.2" height="108.6"/>
<rect x="439.7" y="258.8" width="218.8" height="83.4"/>
<rect x="548.8" y="119.3" width="113.7" height="116.6"/>
</g>
<!-- inset box -->
<rect x="691.4" y="281.3" width="138.8" height="169.8" fill="#fefefe" stroke="#0d0d0d" stroke-width="1.8"/>
<g fill="none" stroke-linejoin="round" stroke-linecap="round">
<path d="M692.5 298.2 L695.5 297.0 L698.6 296.4 L702.2 294.6 L705.7 292.8 L711.0 293.7 L713.8 296.7 L716.4 299.9 L719.9 301.8 L723.5 303.5 L727.0 304.1 L730.6 304.4" stroke="#b4b6b8" stroke-width="4"/>
<path d="M692.5 298.2 L695.4 296.9 L698.6 296.4 L701.9 294.2 L705.7 292.8 L711.0 293.7 L713.4 297.0 L716.4 299.9 L720.1 301.5 L723.5 303.5 L727.1 303.7 L730.6 304.4" stroke="#333" stroke-width="0.7" stroke-dasharray="3 1.2 1 1.2" stroke-linecap="butt"/>
<path d="M730.6 304.4 L735.9 305.3 L737.6 309.7 L741.2 313.2 L740.3 307.9 L744.7 304.4 L748.5 303.0 L751.8 300.8 L755.3 299.0 L758.9 297.3 L762.6 295.8 L766.0 293.7 L769.5 291.5 L773.1 289.3 L775.8 287.2 L778.4 284.9 L781.1 282.3 M739.4 306.1 L740.9 302.4 L743.0 299.0 L744.4 295.5 L745.6 292.0 L746.5 286.6 L744.7 282.3 M703.1 282.3 L704.8 285.8 L710.2 287.5 L712.8 292.0 M705.0 285.0 L709.0 283.0 L712.0 282.3 M794.4 282.3 L796.2 286.6 L799.7 291.1 L803.2 292.8 L805.0 288.4 L804.1 283.1 M728.8 322.1 L730.6 317.7 L735.9 315.4 L739.0 315.0 L742.1 314.1 L745.1 315.9 L743.0 320.3 L739.4 324.8 L734.1 327.4 L730.2 326.0 L728.8 322.1Z" stroke="#0d0d0d" stroke-width="2.2"/>
</g>
<line x1="807.7" y1="291.1" x2="811.2" y2="296.4" stroke="#b0b2b4" stroke-width="4.4"/><line x1="807.7" y1="291.1" x2="811.2" y2="296.4" stroke="#1a1a1a" stroke-width="1.3"/>
<line x1="800.6" y1="315.9" x2="797.9" y2="323.0" stroke="#b0b2b4" stroke-width="4.4"/><line x1="800.6" y1="315.9" x2="797.9" y2="323.0" stroke="#1a1a1a" stroke-width="1.3"/>
<line x1="799.7" y1="337.2" x2="799.0" y2="344.3" stroke="#b0b2b4" stroke-width="4.4"/><line x1="799.7" y1="337.2" x2="799.0" y2="344.3" stroke="#1a1a1a" stroke-width="1.3"/>
<line x1="803.2" y1="362.9" x2="801.1" y2="371.7" stroke="#b0b2b4" stroke-width="4.4"/><line x1="803.2" y1="362.9" x2="801.1" y2="371.7" stroke="#1a1a1a" stroke-width="1.3"/>
<line x1="734.5" y1="342.0" x2="739.1" y2="348.3" stroke="#b0b2b4" stroke-width="4.4"/><line x1="734.5" y1="342.0" x2="739.1" y2="348.3" stroke="#1a1a1a" stroke-width="1.3"/>
<line x1="744.0" y1="368.2" x2="742.6" y2="375.3" stroke="#b0b2b4" stroke-width="4.4"/><line x1="744.0" y1="368.2" x2="742.6" y2="375.3" stroke="#1a1a1a" stroke-width="1.3"/>
<line x1="788.6" y1="390.5" x2="784.1" y2="399.0" stroke="#b0b2b4" stroke-width="4.4"/><line x1="788.6" y1="390.5" x2="784.1" y2="399.0" stroke="#1a1a1a" stroke-width="1.3"/>
<line x1="758.5" y1="422.5" x2="765.7" y2="425.8" stroke="#b0b2b4" stroke-width="4.4"/><line x1="758.5" y1="422.5" x2="765.7" y2="425.8" stroke="#1a1a1a" stroke-width="1.3"/>
<line x1="729.7" y1="402.2" x2="731.7" y2="410.1" stroke="#b0b2b4" stroke-width="4.4"/><line x1="729.7" y1="402.2" x2="731.7" y2="410.1" stroke="#1a1a1a" stroke-width="1.3"/>
<circle cx="772.8" cy="304.4" r="2.0" fill="#0d0d0d"/>
<circle cx="779.3" cy="305.8" r="1.8" fill="#0d0d0d"/>
<circle cx="749.2" cy="334.5" r="1.6" fill="#0d0d0d"/>
<circle cx="753.6" cy="334.2" r="1.6" fill="#0d0d0d"/>
<circle cx="749.2" cy="338.9" r="1.0" fill="#0d0d0d"/>
<circle cx="747.9" cy="344.3" r="1.6" fill="#0d0d0d"/>
<circle cx="755.9" cy="341.2" r="1.0" fill="#0d0d0d"/>
<circle cx="765.1" cy="342.5" r="1.6" fill="#0d0d0d"/>
<circle cx="766.0" cy="344.8" r="1.5" fill="#0d0d0d"/>
<circle cx="771.0" cy="338.1" r="1.8" fill="#0d0d0d"/>
<circle cx="790.5" cy="343.0" r="1.9" fill="#0d0d0d"/>
<circle cx="771.6" cy="371.1" r="1.8" fill="#0d0d0d"/>
<circle cx="774.9" cy="375.1" r="1.6" fill="#0d0d0d"/>
<circle cx="767.7" cy="379.3" r="1.7" fill="#0d0d0d"/>
<circle cx="773.3" cy="381.6" r="1.7" fill="#0d0d0d"/>
<circle cx="778.2" cy="380.6" r="1.3" fill="#0d0d0d"/>
<circle cx="783.1" cy="375.1" r="1.2" fill="#0d0d0d"/>
<circle cx="788.0" cy="369.2" r="1.0" fill="#0d0d0d"/>
<circle cx="792.9" cy="372.8" r="1.4" fill="#0d0d0d"/>
<circle cx="796.2" cy="372.8" r="1.4" fill="#0d0d0d"/>
<circle cx="770.0" cy="388.2" r="1.8" fill="#0d0d0d"/>
<circle cx="766.7" cy="392.4" r="1.4" fill="#0d0d0d"/>
<circle cx="771.6" cy="395.7" r="1.6" fill="#0d0d0d"/>
<circle cx="776.5" cy="393.7" r="1.4" fill="#0d0d0d"/>
<circle cx="779.8" cy="390.5" r="1.3" fill="#0d0d0d"/>
<circle cx="758.5" cy="395.7" r="1.5" fill="#0d0d0d"/>
<circle cx="755.3" cy="400.3" r="1.4" fill="#0d0d0d"/>
<circle cx="748.1" cy="398.0" r="1.6" fill="#0d0d0d"/>
<circle cx="740.5" cy="401.9" r="1.7" fill="#0d0d0d"/>
<circle cx="764.4" cy="407.8" r="1.8" fill="#0d0d0d"/>
<circle cx="765.1" cy="412.7" r="1.6" fill="#0d0d0d"/>
<circle cx="806.5" cy="291.0" r="0.9" fill="#0d0d0d"/>
<!-- frame -->
<rect x="100.6" y="11.2" width="732.7" height="443.2" fill="none" stroke="#0d0d0d" stroke-width="3.1"/>
<g stroke="#0d0d0d" stroke-width="3.1">
<line x1="101" y1="67.7" x2="111.3" y2="67.7"/>
<line x1="101" y1="177.6" x2="111.3" y2="177.6"/>
<line x1="101" y1="287.9" x2="111.3" y2="287.9"/>
<line x1="101" y1="398.4" x2="111.3" y2="398.4"/>
<line x1="134.5" y1="443.6" x2="134.5" y2="454"/>
<line x1="301" y1="443.6" x2="301" y2="454"/>
<line x1="467.5" y1="443.6" x2="467.5" y2="454"/>
<line x1="634" y1="443.6" x2="634" y2="454"/>
<line x1="800.5" y1="443.6" x2="800.5" y2="454"/>
</g>
<g class="ax">
<text x="13.3" y="77.7">50°N</text>
<text x="13.3" y="187.8">40°N</text>
<text x="13.3" y="298.1">30°N</text>
<text x="13.3" y="408.6">20°N</text>
</g>
<g class="ax" style="letter-spacing:2.6px;font-size:30px">
<text x="93.8" y="494.3">75°E</text>
<text x="260.5" y="494.3">90°E</text>
<text x="415.5" y="495">105°E</text>
<text x="584.5" y="493.7">120°E</text>
<text x="749.5" y="495.5">135°E</text>
</g>
<g class="ax" style="font-size:29px;letter-spacing:3px">
<text x="76" y="564.3">387</text>
<text x="162.5" y="564.3">390</text>
<text x="260.8" y="564.3">393</text>
<text x="347" y="564.3">396</text>
<text x="446.3" y="564.3">399</text>
<text x="543" y="564.3">402</text>
<text x="629.8" y="564.3">405</text>
</g>
<text x="681.7" y="536" style="font-size:28.5px;letter-spacing:3.5px">XCO<tspan dy="9.6" style="font-size:16px">2</tspan><tspan dy="-9.6">/ppm</tspan></text>
<g class="lab">
<text x="668.8" y="234.8" style="font-size:27px">A</text>
<text x="276.2" y="173.3" style="font-size:28.2px">B</text>
<text x="663.8" y="323" style="font-size:28.5px">C</text>
</g>
<text x="773.9" y="437.6" style="font-size:11.5px;font-weight:bold;letter-spacing:0.95px;stroke-width:0.15px">南海诸岛</text>
<!-- colorbar -->
<rect x="94.1" y="516.9" width="94.2" height="16.9" fill="#2859ab" stroke="#53565a" stroke-width="1.7"/>
<rect x="188.3" y="516.9" width="94.2" height="16.9" fill="#3a92d6" stroke="#53565a" stroke-width="1.7"/>
<rect x="282.5" y="516.9" width="94.1" height="16.9" fill="#7bccc4" stroke="#53565a" stroke-width="1.7"/>
<rect x="376.6" y="516.9" width="94.2" height="16.9" fill="#f0ea5e" stroke="#53565a" stroke-width="1.7"/>
<rect x="470.8" y="516.9" width="94.2" height="16.9" fill="#f6a533" stroke="#53565a" stroke-width="1.7"/>
<rect x="565" y="516.9" width="94.2" height="16.9" fill="#e9292b" stroke="#53565a" stroke-width="1.7"/>
<!-- outer border -->
<rect x="0.5" y="0.45" width="848" height="574" fill="none" stroke="#262826" stroke-width="1.1"/>
</svg>
</body>
</html>
